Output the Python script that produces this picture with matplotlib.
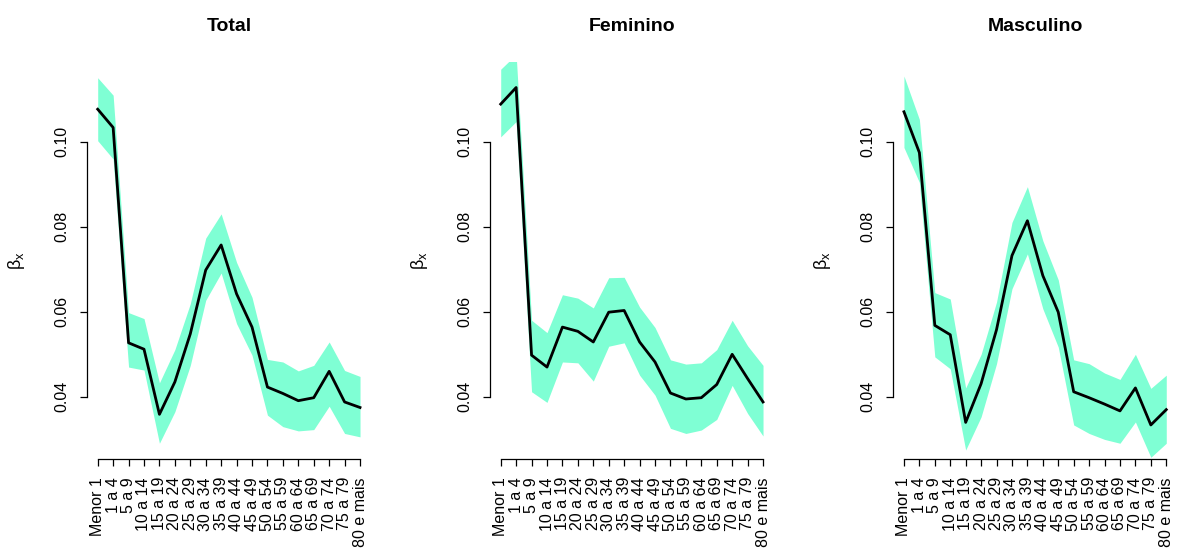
"""Beta_x estimates by age group with confidence bands (Total, Feminino, Masculino)."""

import matplotlib
import matplotlib.pyplot as plt

matplotlib.use("Agg")

plt.rcParams["font.family"] = ["Liberation Sans", "DejaVu Sans"]
plt.rcParams["mathtext.fontset"] = "custom"
plt.rcParams["mathtext.rm"] = "Liberation Sans"
plt.rcParams["mathtext.it"] = "Liberation Sans"

# Age groups
age_groups = [
    "Menor 1", "1 a 4", "5 a 9", "10 a 14", "15 a 19", "20 a 24", "25 a 29",
    "30 a 34", "35 a 39", "40 a 44", "45 a 49", "50 a 54", "55 a 59",
    "60 a 64", "65 a 69", "70 a 74", "75 a 79", "80 e mais",
]

# Total
total_mean = [0.1076, 0.1033, 0.0527, 0.0512, 0.0359, 0.0435, 0.0548, 0.0698, 0.0757,
              0.0642, 0.0564, 0.0423, 0.0408, 0.0391, 0.0398, 0.0460, 0.0388, 0.0375]
total_lo = [0.1002, 0.0959, 0.0470, 0.0463, 0.0291, 0.0365, 0.0474, 0.0627, 0.0691,
            0.0572, 0.0498, 0.0357, 0.0330, 0.0320, 0.0323, 0.0378, 0.0314, 0.0306]
total_hi = [0.1150, 0.1109, 0.0598, 0.0584, 0.0433, 0.0511, 0.0619, 0.0773, 0.0830,
            0.0716, 0.0634, 0.0488, 0.0482, 0.0461, 0.0474, 0.0529, 0.0462, 0.0448]

# Feminino
fem_mean = [0.1088, 0.1127, 0.0498, 0.0470, 0.0564, 0.0554, 0.0529, 0.0599, 0.0603,
            0.0529, 0.0482, 0.0409, 0.0395, 0.0398, 0.0429, 0.0500, 0.0443, 0.0388]
fem_lo = [0.1011, 0.1047, 0.0412, 0.0387, 0.0482, 0.0480, 0.0437, 0.0519, 0.0527,
          0.0451, 0.0404, 0.0326, 0.0314, 0.0322, 0.0347, 0.0427, 0.0361, 0.0308]
fem_hi = [0.1170, 0.1205, 0.0580, 0.0551, 0.0640, 0.0632, 0.0609, 0.0680, 0.0681,
          0.0611, 0.0563, 0.0487, 0.0477, 0.0480, 0.0511, 0.0580, 0.0520, 0.0474]

# Masculino
masc_mean = [0.1070, 0.0974, 0.0568, 0.0546, 0.0340, 0.0431, 0.0558, 0.0732, 0.0814,
             0.0685, 0.0599, 0.0412, 0.0398, 0.0383, 0.0367, 0.0421, 0.0334, 0.0370]
masc_lo = [0.0986, 0.0904, 0.0494, 0.0466, 0.0275, 0.0353, 0.0478, 0.0654, 0.0736,
           0.0607, 0.0517, 0.0334, 0.0314, 0.0300, 0.0291, 0.0341, 0.0258, 0.0291]
masc_hi = [0.1154, 0.1052, 0.0645, 0.0630, 0.0421, 0.0500, 0.0623, 0.0810, 0.0894,
           0.0767, 0.0675, 0.0487, 0.0478, 0.0456, 0.0441, 0.0500, 0.0420, 0.0451]

titles = ["Total", "Feminino", "Masculino"]
y_ticks = [0.04, 0.06, 0.08, 0.10]
y_limits = (0.0254, 0.1187)

BAND_COLOR = "#7FFFD4"

panels = [
    (total_mean, total_lo, total_hi),
    (fem_mean, fem_lo, fem_hi),
    (masc_mean, masc_lo, masc_hi),
]

fig = plt.figure(figsize=(11.77, 5.52), dpi=100)
lefts = [0.0741, 0.4165, 0.7591]

x = list(range(1, len(age_groups) + 1))
for left, title, (mean, lo, hi) in zip(lefts, titles, panels):
    ax = fig.add_axes([left, 0.1685, 0.2407, 0.7192])
    ax.fill_between(x, lo, hi, color=BAND_COLOR, linewidth=0)
    ax.plot(x, mean, color="black", linewidth=2)

    ax.set_xlim(1 - 0.68, len(x) + 0.68)
    ax.set_ylim(*y_limits)

    # R-like axes: no box, axis lines only across the tick range
    for spine in ["top", "right"]:
        ax.spines[spine].set_visible(False)
    ax.spines["left"].set_bounds(y_ticks[0], y_ticks[-1])
    ax.spines["bottom"].set_bounds(x[0], x[-1])
    for spine in ["left", "bottom"]:
        ax.spines[spine].set_linewidth(0.9)

    ax.set_yticks(y_ticks)
    ax.set_yticklabels([f"{t:.2f}" for t in y_ticks], rotation=90, va="center")
    ax.set_xticks(x)
    ax.set_xticklabels(age_groups, rotation=90)
    ax.tick_params(axis="both", length=5, width=0.9, labelsize=11.5, pad=8)

    ax.set_ylabel(r"$\beta_x$", fontsize=13)
    ax.yaxis.set_label_coords(-0.212, 0.5)
    ax.set_title(title, fontsize=14, fontweight="bold", pad=22)

fig.savefig("out.png", dpi=100)
plt.close(fig)
